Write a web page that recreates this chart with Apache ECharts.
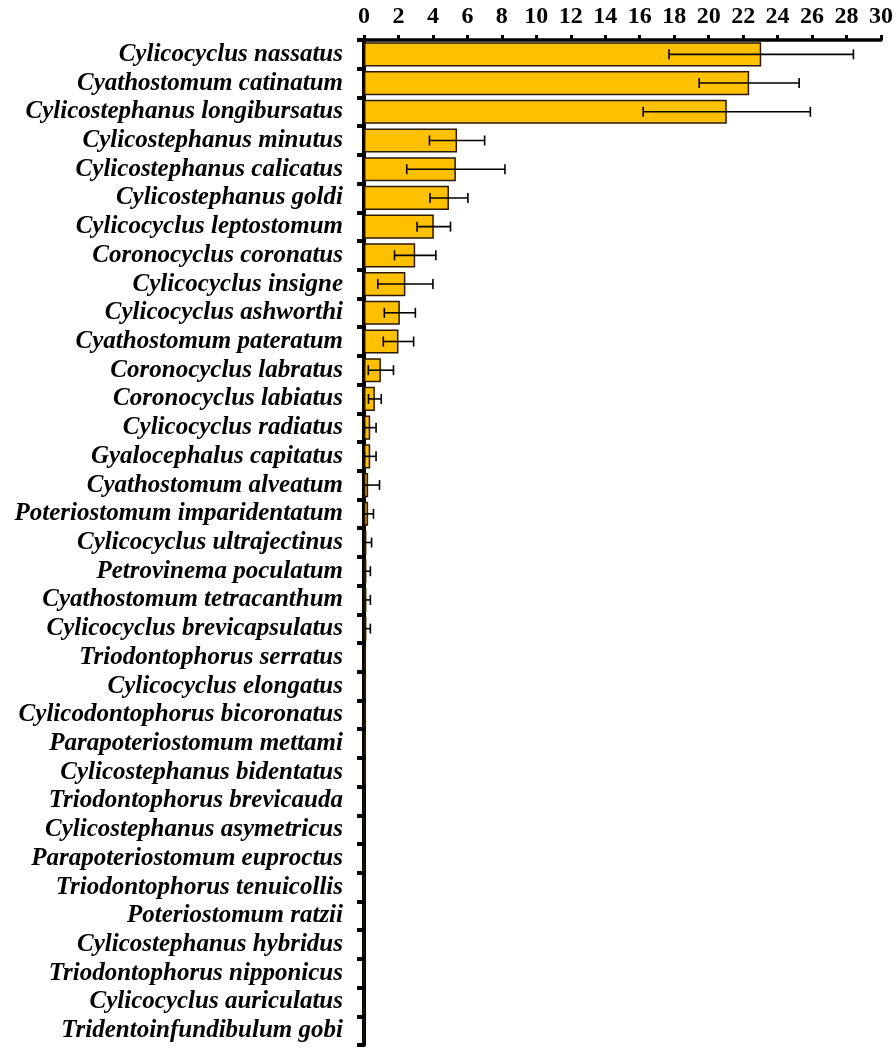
<!DOCTYPE html>
<html>
<head>
<meta charset="utf-8">
<script src="https://cdn.jsdelivr.net/npm/echarts@6/dist/echarts.min.js"></script>
<style>html,body{margin:0;padding:0;background:#fff}#c{width:896px;height:1050px}</style>
</head>
<body>
<div id="c"></div>
<script>
const species = [
  'Cylicocyclus nassatus','Cyathostomum catinatum','Cylicostephanus longibursatus',
  'Cylicostephanus minutus','Cylicostephanus calicatus','Cylicostephanus goldi',
  'Cylicocyclus leptostomum','Coronocyclus coronatus','Cylicocyclus insigne',
  'Cylicocyclus ashworthi','Cyathostomum pateratum','Coronocyclus labratus',
  'Coronocyclus labiatus','Cylicocyclus radiatus','Gyalocephalus capitatus',
  'Cyathostomum alveatum','Poteriostomum imparidentatum','Cylicocyclus ultrajectinus',
  'Petrovinema poculatum','Cyathostomum tetracanthum','Cylicocyclus brevicapsulatus',
  'Triodontophorus serratus','Cylicocyclus elongatus','Cylicodontophorus bicoronatus',
  'Parapoteriostomum mettami','Cylicostephanus bidentatus','Triodontophorus brevicauda',
  'Cylicostephanus asymetricus','Parapoteriostomum euproctus','Triodontophorus tenuicollis',
  'Poteriostomum ratzii','Cylicostephanus hybridus','Triodontophorus nipponicus',
  'Cylicocyclus auriculatus','Tridentoinfundibulum gobi'
];
const means = [
  23.05, 22.35, 21.05, 5.4, 5.33, 4.93, 4.05, 2.97, 2.4, 2.08, 2.0, 0.98, 0.63,
  0.36, 0.36, 0.24, 0.24, 0.14, 0.14, 0.14, 0.14, 0.12, 0.12, 0.12, 0.12, 0.12,
  0, 0, 0, 0, 0, 0, 0, 0, 0
];
const errors = [
  5.35, 2.9, 4.85, 1.6, 2.85, 1.1, 0.97, 1.2, 1.6, 0.9, 0.88, 0.73, 0.37,
  0.34, 0.34, 0.66, 0.31, 0.3, 0.23, 0.23, 0.23, 0, 0, 0, 0, 0,
  0, 0, 0, 0, 0, 0, 0, 0, 0
];

const errData = species.map((s, i) => [i, Math.max(0, means[i] - errors[i]), means[i] + errors[i], errors[i]]);

const chart = echarts.init(document.getElementById('c'), null, {renderer: 'canvas'});
chart.setOption({
  animation: false,
  backgroundColor: '#ffffff',
  grid: {left: 364, right: 13, top: 40, bottom: 5, containLabel: false},
  xAxis: {
    type: 'value', position: 'top', min: 0, max: 30, interval: 2,
    axisLine: {show: true, lineStyle: {color: '#000', width: 3.5}},
    axisTick: {show: true, inside: false, length: 5, lineStyle: {color: '#000', width: 3}},
    splitLine: {show: false},
    axisLabel: {color: '#000', fontFamily: 'Liberation Serif', fontWeight: 'bold', fontSize: 24, margin: 11}
  },
  yAxis: {
    type: 'category', inverse: true, data: species,
    axisLine: {show: true, lineStyle: {color: '#000', width: 4}},
    axisTick: {show: true, inside: false, length: 7, alignWithLabel: false, lineStyle: {color: '#000', width: 4}},
    axisLabel: {color: '#000', fontFamily: 'Liberation Serif', fontStyle: 'italic', fontWeight: 'bold', fontSize: 25, margin: 21, interval: 0}
  },
  series: [
    {
      type: 'bar', data: means, barWidth: '84%',
      itemStyle: {color: '#FFC000', borderColor: '#2a1800', borderWidth: 1.5},
      z: 2
    },
    {
      type: 'custom', z: 3,
      data: errData,
      encode: {x: [1, 2], y: 0},
      renderItem: function (params, api) {
        if (api.value(3) <= 0) return null;
        const y = api.value(0);
        const lo = api.coord([api.value(1), y]);
        const hi = api.coord([api.value(2), y]);
        const capH = 5;
        const st = {stroke: '#000', lineWidth: 1.6};
        const children = [
          {type: 'line', shape: {x1: lo[0], y1: lo[1], x2: hi[0], y2: hi[1]}, style: st},
          {type: 'line', shape: {x1: hi[0], y1: hi[1] - capH, x2: hi[0], y2: hi[1] + capH}, style: st}
        ];
        if (api.value(1) > 0) {
          children.push({type: 'line', shape: {x1: lo[0], y1: lo[1] - capH, x2: lo[0], y2: lo[1] + capH}, style: st});
        }
        return {type: 'group', children: children};
      }
    }
  ]
});
</script>
</body>
</html>
